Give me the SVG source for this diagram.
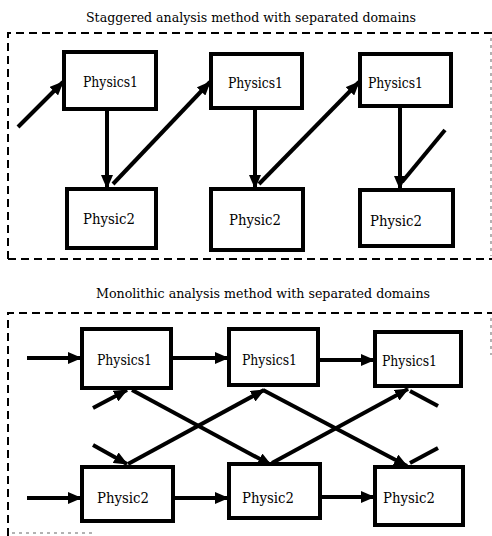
<svg xmlns="http://www.w3.org/2000/svg" width="492" height="536" viewBox="0 0 492 536">
<style>
.bg{fill:#fff}
.box{fill:#fff;stroke:#000;stroke-width:4}
text{font-family:'DejaVu Serif',serif;font-size:13px;fill:#000}
.lbl{font-size:14.5px}
.frame{fill:none;stroke:#000;stroke-width:2;stroke-dasharray:8 5}
.faint{fill:none;stroke:#999;stroke-width:1.5;stroke-dasharray:3 4}
.arr{fill:none;stroke:#000;stroke-width:4;marker-end:url(#ah)}
.ln{fill:none;stroke:#000;stroke-width:4}
</style>
<defs>
<marker id="ah" markerUnits="userSpaceOnUse" markerWidth="14" markerHeight="12" refX="13" refY="6" orient="auto">
<path d="M0,0 L14,6 L0,12 Z" fill="#000"/>
</marker>
</defs>
<rect class="bg" x="0" y="0" width="492" height="536"/>
<g id="titles">
<text x="86" y="22" textLength="330" lengthAdjust="spacingAndGlyphs">Staggered analysis method with separated domains</text>
<text x="96" y="298" textLength="334" lengthAdjust="spacingAndGlyphs">Monolithic analysis method with separated domains</text>
</g>
<g id="frames">
<path class="frame" d="M8,259 V33 H492"/>
<path class="frame" d="M8,259 H492"/>
<path class="faint" d="M491,38 V256"/>
<path class="frame" d="M8,536 V313 H492"/>
<path class="faint" d="M12,533 H95"/>
<path class="faint" d="M491,318 V355"/>
</g>
<g id="connectors">
<line class="arr" x1="18" y1="127" x2="63" y2="82"/>
<line class="arr" x1="107" y1="110" x2="107" y2="188"/>
<line class="arr" x1="113" y1="184" x2="210" y2="82"/>
<line class="arr" x1="255" y1="110" x2="255" y2="188"/>
<line class="arr" x1="259" y1="184" x2="359" y2="82"/>
<line class="arr" x1="400" y1="108" x2="400" y2="189"/>
<line class="ln" x1="445" y1="130" x2="402" y2="182"/>
<line class="arr" x1="27" y1="358" x2="81" y2="358"/>
<line class="arr" x1="173" y1="358" x2="228" y2="358"/>
<line class="arr" x1="320" y1="360" x2="374" y2="360"/>
<line class="arr" x1="27" y1="498" x2="81" y2="498"/>
<line class="arr" x1="175" y1="498" x2="228" y2="498"/>
<line class="arr" x1="322" y1="497" x2="374" y2="497"/>
<line class="arr" x1="93" y1="408" x2="127" y2="390"/>
<line class="arr" x1="93" y1="445" x2="127" y2="464"/>
<line class="arr" x1="132" y1="390" x2="271" y2="465"/>
<line class="arr" x1="128" y1="464" x2="264" y2="390"/>
<line class="arr" x1="263" y1="390" x2="407" y2="466"/>
<line class="arr" x1="272" y1="463" x2="408" y2="389"/>
<line class="ln" x1="410" y1="391" x2="438" y2="406"/>
<line class="ln" x1="438" y1="448" x2="410" y2="463"/>
</g>
<g id="s1p1a"><rect class="box" x="64" y="52" width="92" height="57"/><text class="lbl" x="83" y="87" textLength="55" lengthAdjust="spacingAndGlyphs">Physics1</text></g>
<g id="s1p1b"><rect class="box" x="211" y="54" width="91" height="54"/><text class="lbl" x="228" y="88" textLength="55" lengthAdjust="spacingAndGlyphs">Physics1</text></g>
<g id="s1p1c"><rect class="box" x="360" y="54" width="91" height="52"/><text class="lbl" x="368" y="88" textLength="55" lengthAdjust="spacingAndGlyphs">Physics1</text></g>
<g id="s1p2a"><rect class="box" x="67" y="189" width="89" height="59"/><text class="lbl" x="83" y="224" textLength="52" lengthAdjust="spacingAndGlyphs">Physic2</text></g>
<g id="s1p2b"><rect class="box" x="211" y="189" width="92" height="61"/><text class="lbl" x="229" y="225" textLength="52" lengthAdjust="spacingAndGlyphs">Physic2</text></g>
<g id="s1p2c"><rect class="box" x="360" y="190" width="93" height="56"/><text class="lbl" x="370" y="226" textLength="52" lengthAdjust="spacingAndGlyphs">Physic2</text></g>
<g id="s2p1a"><rect class="box" x="82" y="329" width="89" height="59"/><text class="lbl" x="97" y="365" textLength="55" lengthAdjust="spacingAndGlyphs">Physics1</text></g>
<g id="s2p1b"><rect class="box" x="229" y="329" width="89" height="56"/><text class="lbl" x="242" y="365" textLength="55" lengthAdjust="spacingAndGlyphs">Physics1</text></g>
<g id="s2p1c"><rect class="box" x="375" y="332" width="86" height="54"/><text class="lbl" x="382" y="366" textLength="55" lengthAdjust="spacingAndGlyphs">Physics1</text></g>
<g id="s2p2a"><rect class="box" x="82" y="467" width="91" height="54"/><text class="lbl" x="97" y="503" textLength="52" lengthAdjust="spacingAndGlyphs">Physic2</text></g>
<g id="s2p2b"><rect class="box" x="229" y="464" width="91" height="54"/><text class="lbl" x="242" y="503" textLength="52" lengthAdjust="spacingAndGlyphs">Physic2</text></g>
<g id="s2p2c"><rect class="box" x="375" y="467" width="88" height="58"/><text class="lbl" x="383" y="503" textLength="52" lengthAdjust="spacingAndGlyphs">Physic2</text></g>
</svg>
